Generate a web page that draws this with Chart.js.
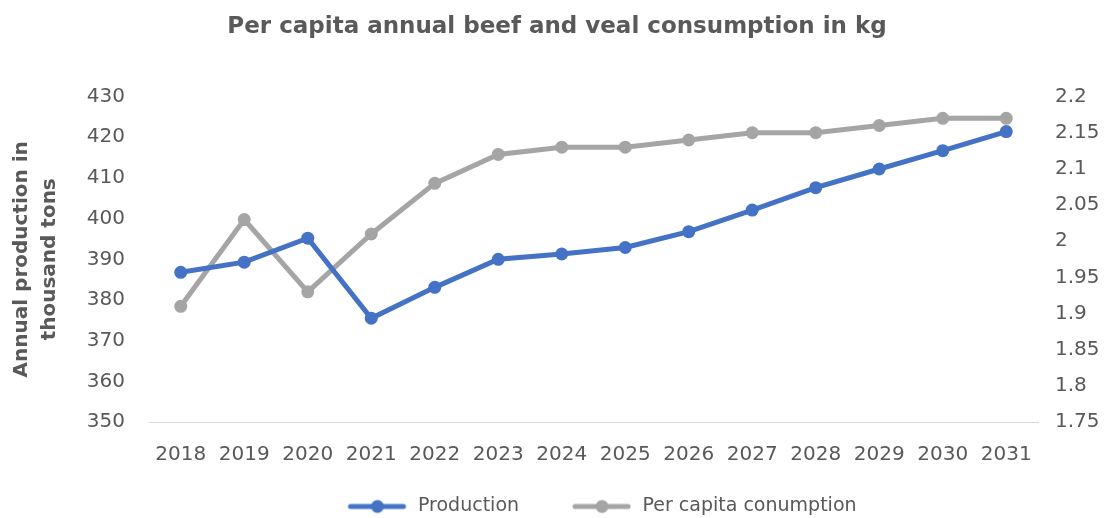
<!DOCTYPE html>
<html>
<head>
<meta charset="utf-8">
<script src="https://cdn.jsdelivr.net/npm/chart.js@4/dist/chart.umd.min.js"></script>
<style>
  html, body { margin: 0; padding: 0; background: #fff; }
  #wrap { width: 1114px; height: 518px; }
</style>
</head>
<body>
<div id="wrap"><canvas id="beefChart" width="1114" height="518"></canvas></div>
<script>
const years = ['2018','2019','2020','2021','2022','2023','2024','2025','2026','2027','2028','2029','2030','2031']
const production = [386.8, 389.3, 395.2, 375.5, 383.1, 390.0, 391.3, 392.9, 396.8, 402.1, 407.6, 412.2, 416.7, 421.4]
const perCapita = [1.91, 2.03, 1.93, 2.01, 2.08, 2.12, 2.13, 2.13, 2.14, 2.15, 2.15, 2.16, 2.17, 2.17]
const seriesNames = ['Production', 'Per capita conumption']
const chartTitle = 'Per capita annual beef and veal consumption in kg'
const leftTitle = ['Annual production in', 'thousand tons']

const textColor = '#595959'
const blue = '#4472C4'
const grey = '#A5A5A5'
const sampleW = 111

Chart.defaults.font.family = 'DejaVu Sans'
Chart.defaults.color = textColor

// line+marker sample for the legend (blank on the left to space the items out)
function legendSample(color){
    const c = document.createElement('canvas')
    c.width = sampleW
    c.height = 16
    const g = c.getContext('2d')
    g.strokeStyle = color
    g.lineWidth = 5
    g.lineCap = 'round'
    g.beginPath()
    g.moveTo(sampleW - 58, 8)
    g.lineTo(sampleW - 5, 8)
    g.stroke()
    g.fillStyle = color
    g.beginPath()
    g.arc(sampleW - 31, 8, 6.5, 0, Math.PI*2)
    g.fill()
    return c
}

// nudge the legend a bit to the right like the original
const legendShift = {
    id: 'legendShift',
    afterLayout(chart){
        chart.legend.left += 20
        chart.legend.right += 20
    }
}

document.addEventListener("DOMContentLoaded",(e)=>{

new Chart("beefChart", {
    type: "line",
    plugins: [legendShift],
    data: {
        labels: years,
        datasets: [{
            label: seriesNames[0],
            data: production,
            yAxisID: 'y',
            borderColor: blue,
            backgroundColor: blue,
            borderWidth: 5,
            pointRadius: 6.5,
            pointHoverRadius: 6.5,
            pointBorderWidth: 0,
            lineTension: 0,
            fill: false
        },{
            label: seriesNames[1],
            data: perCapita,
            yAxisID: 'y1',
            borderColor: grey,
            backgroundColor: grey,
            borderWidth: 5,
            pointRadius: 6.5,
            pointHoverRadius: 6.5,
            pointBorderWidth: 0,
            lineTension: 0,
            fill: false
        }]
    },
    options: {
        responsive: false,
        animation: false,
        layout: { padding: { left: 0, right: 0, top: 0, bottom: -8 } },
        plugins: {
            title: {
                display: true,
                text: chartTitle,
                color: textColor,
                font: { size: 23, weight: 'bold' },
                padding: { top: 13, bottom: 56 }
            },
            legend: {
                position: 'bottom',
                labels: {
                    usePointStyle: true,
                    pointStyleWidth: sampleW,
                    padding: 3,
                    color: textColor,
                    font: { size: 19 },
                    generateLabels: (chart) => chart.data.datasets.map((ds, i) => ({
                        text: ds.label,
                        pointStyle: legendSample(ds.borderColor),
                        fillStyle: ds.borderColor,
                        strokeStyle: ds.borderColor,
                        lineWidth: 0,
                        fontColor: textColor,
                        datasetIndex: i,
                        hidden: false
                    }))
                }
            },
            tooltip: { enabled: false }
        },
        scales: {
            x: {
                offset: true,
                grid: { display: false, drawTicks: false },
                border: { color: '#D9D9D9', width: 1 },
                ticks: { color: textColor, font: { size: 20 }, padding: 21, maxRotation: 0, autoSkip: false },
                afterFit: (scale) => { scale.height = 72 }
            },
            y: {
                position: 'left',
                min: 350,
                max: 430,
                grid: { display: false, drawTicks: false },
                border: { display: false },
                ticks: { stepSize: 10, color: textColor, font: { size: 20 }, padding: 24 },
                title: {
                    display: true,
                    text: leftTitle,
                    color: textColor,
                    font: { size: 20, weight: 'bold', lineHeight: 1.4 },
                    padding: { top: 8, bottom: 0 }
                },
                afterFit: (scale) => { scale.width = 149 }
            },
            y1: {
                position: 'right',
                min: 1.75,
                max: 2.2,
                grid: { display: false, drawTicks: false },
                border: { display: false },
                ticks: {
                    stepSize: 0.05,
                    color: textColor,
                    font: { size: 20 },
                    padding: 17,
                    callback: (v) => String(Number(v.toFixed(2)))
                },
                afterFit: (scale) => { scale.width = 76 }
            }
        }
    }
})

})
</script>
</body>
</html>
